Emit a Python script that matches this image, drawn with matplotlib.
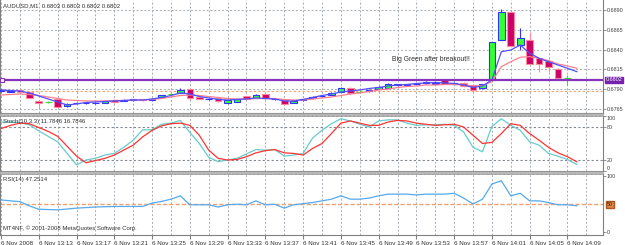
import numpy as np
import matplotlib.pyplot as plt
from matplotlib.patches import Rectangle
from matplotlib.transforms import blended_transform_factory

plt.rcParams['font.family'] = ['Liberation Sans', 'DejaVu Sans']

# M1 bars, 6 Nov 2008 13:09 .. 14:10
opens = [0.6788, 0.6787, 0.6789, 0.6786, 0.6775, 0.6774, 0.6778, 0.6769, 0.6772, 0.6772,
         0.6772, 0.6773, 0.6776, 0.6775, 0.6776, 0.6777, 0.6776, 0.6780, 0.6784, 0.6785,
         0.6790, 0.6780, 0.6777, 0.6779, 0.6773, 0.6774, 0.6781, 0.6779, 0.6784, 0.6777,
         0.6776, 0.6773, 0.6776, 0.6779, 0.6781, 0.6783, 0.6787, 0.6792, 0.6787, 0.6788,
         0.6790, 0.6792, 0.6795, 0.6795, 0.6796, 0.6798, 0.6797, 0.6801, 0.6797, 0.6798,
         0.6795, 0.6791, 0.6802, 0.6852, 0.6887, 0.6846, 0.6852, 0.6829, 0.6825, 0.6816,
         0.6804, 0.6803]
highs = [0.6790, 0.6789, 0.6790, 0.6788, 0.6775, 0.6775, 0.6780, 0.6772, 0.6774, 0.6774,
         0.6774, 0.6776, 0.6777, 0.6777, 0.6777, 0.6778, 0.6779, 0.6783, 0.6785, 0.6791,
         0.6792, 0.6781, 0.6779, 0.6780, 0.6777, 0.6778, 0.6782, 0.6784, 0.6785, 0.6779,
         0.6777, 0.6776, 0.6778, 0.6781, 0.6783, 0.6786, 0.6793, 0.6793, 0.6789, 0.6790,
         0.6794, 0.6798, 0.6797, 0.6797, 0.6798, 0.6800, 0.6799, 0.6802, 0.6799, 0.6799,
         0.6795, 0.6797, 0.6849, 0.6891, 0.6888, 0.6867, 0.6862, 0.6830, 0.6828, 0.6817,
         0.6808, 0.6803]
lows = [0.6786, 0.6786, 0.6786, 0.6779, 0.6766, 0.6773, 0.6767, 0.6768, 0.6771, 0.6771,
        0.6771, 0.6772, 0.6773, 0.6775, 0.6775, 0.6775, 0.6776, 0.6779, 0.6782, 0.6785,
        0.6776, 0.6777, 0.6776, 0.6774, 0.6773, 0.6774, 0.6777, 0.6779, 0.6778, 0.6776,
        0.6770, 0.6772, 0.6775, 0.6778, 0.6780, 0.6783, 0.6787, 0.6784, 0.6786, 0.6787,
        0.6790, 0.6792, 0.6794, 0.6795, 0.6796, 0.6797, 0.6797, 0.6797, 0.6797, 0.6793,
        0.6788, 0.6790, 0.6800, 0.6852, 0.6845, 0.6839, 0.6822, 0.6812, 0.6812, 0.6804,
        0.6795, 0.6802]
closes = [0.6789, 0.6788, 0.6786, 0.6779, 0.6773, 0.6774, 0.6768, 0.6771, 0.6773, 0.6773,
          0.6773, 0.6775, 0.6774, 0.6776, 0.6777, 0.6776, 0.6778, 0.6783, 0.6784, 0.6789,
          0.6779, 0.6778, 0.6778, 0.6775, 0.6776, 0.6777, 0.6777, 0.6783, 0.6779, 0.6778,
          0.6771, 0.6775, 0.6777, 0.6780, 0.6782, 0.6785, 0.6792, 0.6785, 0.6787, 0.6789,
          0.6793, 0.6797, 0.6796, 0.6796, 0.6797, 0.6799, 0.6798, 0.6797, 0.6798, 0.6794,
          0.6789, 0.6796, 0.6849, 0.6887, 0.6845, 0.6855, 0.6822, 0.6822, 0.6818, 0.6804,
          0.6804, 0.6802]

# moving averages (fast = blue, slow = pink)
ma_fast = [0.67890, 0.67883, 0.67877, 0.67852, 0.67814, 0.67776, 0.67738, 0.67700, 0.67713, 0.67732,
           0.67738, 0.67744, 0.67751, 0.67757, 0.67763, 0.67763, 0.67776, 0.67795, 0.67820, 0.67852,
           0.67839, 0.67807, 0.67789, 0.67770, 0.67763, 0.67770, 0.67776, 0.67789, 0.67782, 0.67776,
           0.67751, 0.67751, 0.67770, 0.67795, 0.67820, 0.67839, 0.67864, 0.67877, 0.67890, 0.67909,
           0.67921, 0.67940, 0.67953, 0.67959, 0.67972, 0.67978, 0.67984, 0.67978, 0.67972, 0.67953,
           0.67921, 0.67940, 0.68016, 0.68373, 0.68395, 0.68458, 0.68353, 0.68290, 0.68247, 0.68205,
           0.68164, 0.68121]
ma_slow = [0.67826, 0.67833, 0.67839, 0.67833, 0.67820, 0.67801, 0.67782, 0.67763, 0.67757, 0.67751,
           0.67751, 0.67751, 0.67757, 0.67757, 0.67763, 0.67763, 0.67770, 0.67782, 0.67801, 0.67820,
           0.67826, 0.67820, 0.67807, 0.67795, 0.67782, 0.67776, 0.67776, 0.67782, 0.67782, 0.67782,
           0.67770, 0.67763, 0.67763, 0.67776, 0.67789, 0.67801, 0.67820, 0.67839, 0.67852, 0.67871,
           0.67890, 0.67902, 0.67921, 0.67934, 0.67940, 0.67953, 0.67953, 0.67959, 0.67959, 0.67953,
           0.67940, 0.67947, 0.67994, 0.68184, 0.68247, 0.68303, 0.68311, 0.68290, 0.68260, 0.68218,
           0.68193, 0.68164]

# Stochastic(10,3,3)
stoch_main = [89, 89, 88, 84, 73, 63, 53, 32, 11, 20,
              23, 29, 32, 43, 56, 75, 75, 85, 87, 92,
              70, 50, 25, 17, 20, 23, 31, 39, 38, 39,
              27, 29, 32, 60, 74, 86, 95, 91, 85, 80,
              91, 93, 93, 87, 83, 84, 84, 85, 83, 71,
              43, 35, 81, 95, 83, 74, 53, 47, 32, 27,
              21, 11.7846]
stoch_signal = [77, 83, 87, 86, 79, 72, 63, 45, 27, 15,
                19, 23, 29, 38, 47, 62, 74, 82, 86, 87,
                83, 65, 38, 23, 20, 21, 26, 33, 37, 39,
                33, 32, 29, 41, 50, 68, 87, 91, 87, 83,
                83, 89, 92, 91, 87, 85, 83, 84, 85, 80,
                65, 50, 52, 68, 86, 83, 68, 56, 43, 33,
                26, 16.7846]

# RSI(14)
rsi = [57.7, 56, 54.6, 47, 41, 40.5, 40, 41.5, 43, 44,
       45, 45.5, 46, 46, 46, 46, 52, 55, 59, 65,
       49, 49, 49, 45, 49, 50, 49, 56, 49, 50,
       43, 49, 51, 53, 56, 59, 65, 59, 59, 61,
       65, 68, 68, 68, 66.6, 68, 68, 68, 69.6, 61,
       50.5, 59, 86, 92, 65, 69.6, 56, 56, 53, 49,
       49, 47.2514]

time_ticks = list(range(0, 62, 4))
time_labels = ['6 Nov 2008', '6 Nov 13:13', '6 Nov 13:17', '6 Nov 13:21', '6 Nov 13:25',
               '6 Nov 13:29', '6 Nov 13:33', '6 Nov 13:37', '6 Nov 13:41', '6 Nov 13:45',
               '6 Nov 13:49', '6 Nov 13:53', '6 Nov 13:57', '6 Nov 14:01', '6 Nov 14:05',
               '6 Nov 14:09']
price_ticks = [0.6765, 0.6790, 0.6815, 0.6840, 0.6865, 0.6890]
hline_price = 0.6802
support_price = 0.6788

W, H = 625, 245
fig = plt.figure(figsize=(W / 100, H / 100), dpi=100)
fig.patch.set_facecolor('white')


def box(x0, y0, x1, y1):
    return [x0 / W, 1 - y1 / H, (x1 - x0) / W, (y1 - y0) / H]


ax = fig.add_axes(box(0, 0, 603, 113))
ax_st = fig.add_axes(box(0, 116, 603, 171))
ax_rsi = fig.add_axes(box(0, 174, 603, 235))

grid_col = '#a4acb4'
dots = (0, (2, 2))
x = np.arange(len(opens))
lab_size = 3.9

for a in (ax, ax_st, ax_rsi):
    a.set_xlim(-0.11, 63.77)
    for i in range(0, 63, 2):
        a.axvline(i, color=grid_col, lw=0.7, ls=dots, zorder=0)
    for s in a.spines.values():
        s.set_color('#808080')
        s.set_linewidth(0.8)
    a.spines['top'].set_visible(False)
    a.yaxis.tick_right()
    a.tick_params(axis='y', length=2, width=0.6, pad=0.8, labelsize=lab_size,
                  colors='#808080', labelcolor='#404040')
    a.tick_params(axis='x', length=0, labelbottom=False)

# ---- price panel
ax.set_ylim(0.67599, 0.690263)
for p in price_ticks:
    ax.axhline(p, color=grid_col, lw=0.7, ls=dots, zorder=0)
ax.set_yticks(price_ticks)
ax.set_yticklabels(['%.4f' % p for p in price_ticks])

o, h, l, c = map(np.array, (opens, highs, lows, closes))
up, dn, dj = c > o, c < o, c == o
ax.vlines(x[up], l[up], h[up], color='#3333ff', lw=0.8, zorder=2)
ax.bar(x[up], c[up] - o[up], bottom=o[up], width=0.7, color='#33ff33',
       edgecolor='#3333ff', lw=0.8, zorder=3)
ax.vlines(x[dn], l[dn], h[dn], color='#ff8899', lw=0.8, zorder=2)
ax.bar(x[dn], o[dn] - c[dn], bottom=c[dn], width=0.7, color='#cc0066',
       edgecolor='#ff8899', lw=0.8, zorder=3)
ax.vlines(x[dj], l[dj], h[dj], color='#33dd33', lw=0.8, zorder=3)
ax.hlines(o[dj], x[dj] - 0.35, x[dj] + 0.35, color='#33dd33', lw=0.8, zorder=3)

ax.plot(x, ma_slow, color='#ff7f8f', lw=0.9, zorder=4)
ax.plot(x, ma_fast, color='#5050ff', lw=0.9, zorder=5)

ax.axhline(support_price, color='#ff9966', lw=0.8, ls=dots, zorder=1)
ax.axhline(hline_price, color='#8833bb', lw=1.6, zorder=6)
ax.plot([0.1], [hline_price], marker='s', ms=2.6, mfc='white', mec='#8833bb', mew=0.8, zorder=7)
trans = blended_transform_factory(ax.transAxes, ax.transData)
ax.text(1 + 3 / 603, hline_price, '%.4f' % hline_price, transform=trans, ha='left', va='center',
        fontsize=lab_size, color='white', zorder=8,
        bbox=dict(boxstyle='square,pad=0.12', fc='#7722aa', ec='#7722aa'))

ax.text(41.4, 0.6827, 'Big Green after breakout!!', ha='left', va='center', fontsize=4.9, color='#303030')
fig.text(3 / W, 1 - 6 / H, 'AUDUSD,M1  0.6803 0.6803 0.6802 0.6802', va='center', fontsize=4.3,
         color='#303030')

# ---- stochastic panel
ax_st.set_ylim(0, 100)
for lv in (20, 80):
    ax_st.axhline(lv, color='#808890', lw=0.8, ls=dots, zorder=0)
ax_st.plot(x, stoch_main, color='#66cccc', lw=0.9)
ax_st.plot(x, stoch_signal, color='#ff3333', lw=0.9)
ax_st.set_yticks([0, 20, 80, 100])
ax_st.set_yticklabels(['0', '20', '80', '100'])
lbls = ax_st.get_yticklabels()
lbls[0].set_va('bottom')
lbls[3].set_va('top')
fig.text(3 / W, 1 - 121 / H, 'Stoch(10,3,3) 11.7846 16.7846', va='center', fontsize=4.3, color='#303030')

# ---- RSI panel
ax_rsi.set_ylim(-5, 104)
ax_rsi.axhline(50, color='#f0a070', lw=1.0, ls=(0, (3, 1.5)), zorder=1)
ax_rsi.plot(x, rsi, color='#55aaee', lw=0.9, zorder=3)
ax_rsi.set_yticks([0, 100])
ax_rsi.set_yticklabels(['0', '100'])
trans_r = blended_transform_factory(ax_rsi.transAxes, ax_rsi.transData)
ax_rsi.text(1 + 4 / 603, 50, '50', transform=trans_r, ha='left', va='center', fontsize=lab_size,
            color='#402000', bbox=dict(boxstyle='square,pad=0.15', fc='#dd8844', ec='#aa5522'))
ax_rsi.set_xticks(time_ticks)
ax_rsi.set_xticklabels(time_labels)
ax_rsi.tick_params(axis='x', length=3, pad=1, labelsize=4.5, labelbottom=True,
                   colors='#808080', labelcolor='#303030')
for t in ax_rsi.get_xticklabels():
    t.set_ha('left')
fig.text(3 / W, 1 - 179 / H, 'RSI(14) 47.2514', va='center', fontsize=4.3, color='#303030')
fig.text(3 / W, 1 - 228 / H, 'MT4NF, \u00a9 2001-2008 MetaQuotes Software Corp.', va='center',
         fontsize=4.3, color='#303030')

# window separators
for y0 in (113, 171):
    fig.add_artist(Rectangle((0, 1 - (y0 + 3) / H), 603 / W, 3 / H, transform=fig.transFigure,
                             facecolor='#b8b8b8', edgecolor='#909090', lw=0.4, hatch='....'))

fig.savefig('out.png', dpi=100, facecolor='white')
